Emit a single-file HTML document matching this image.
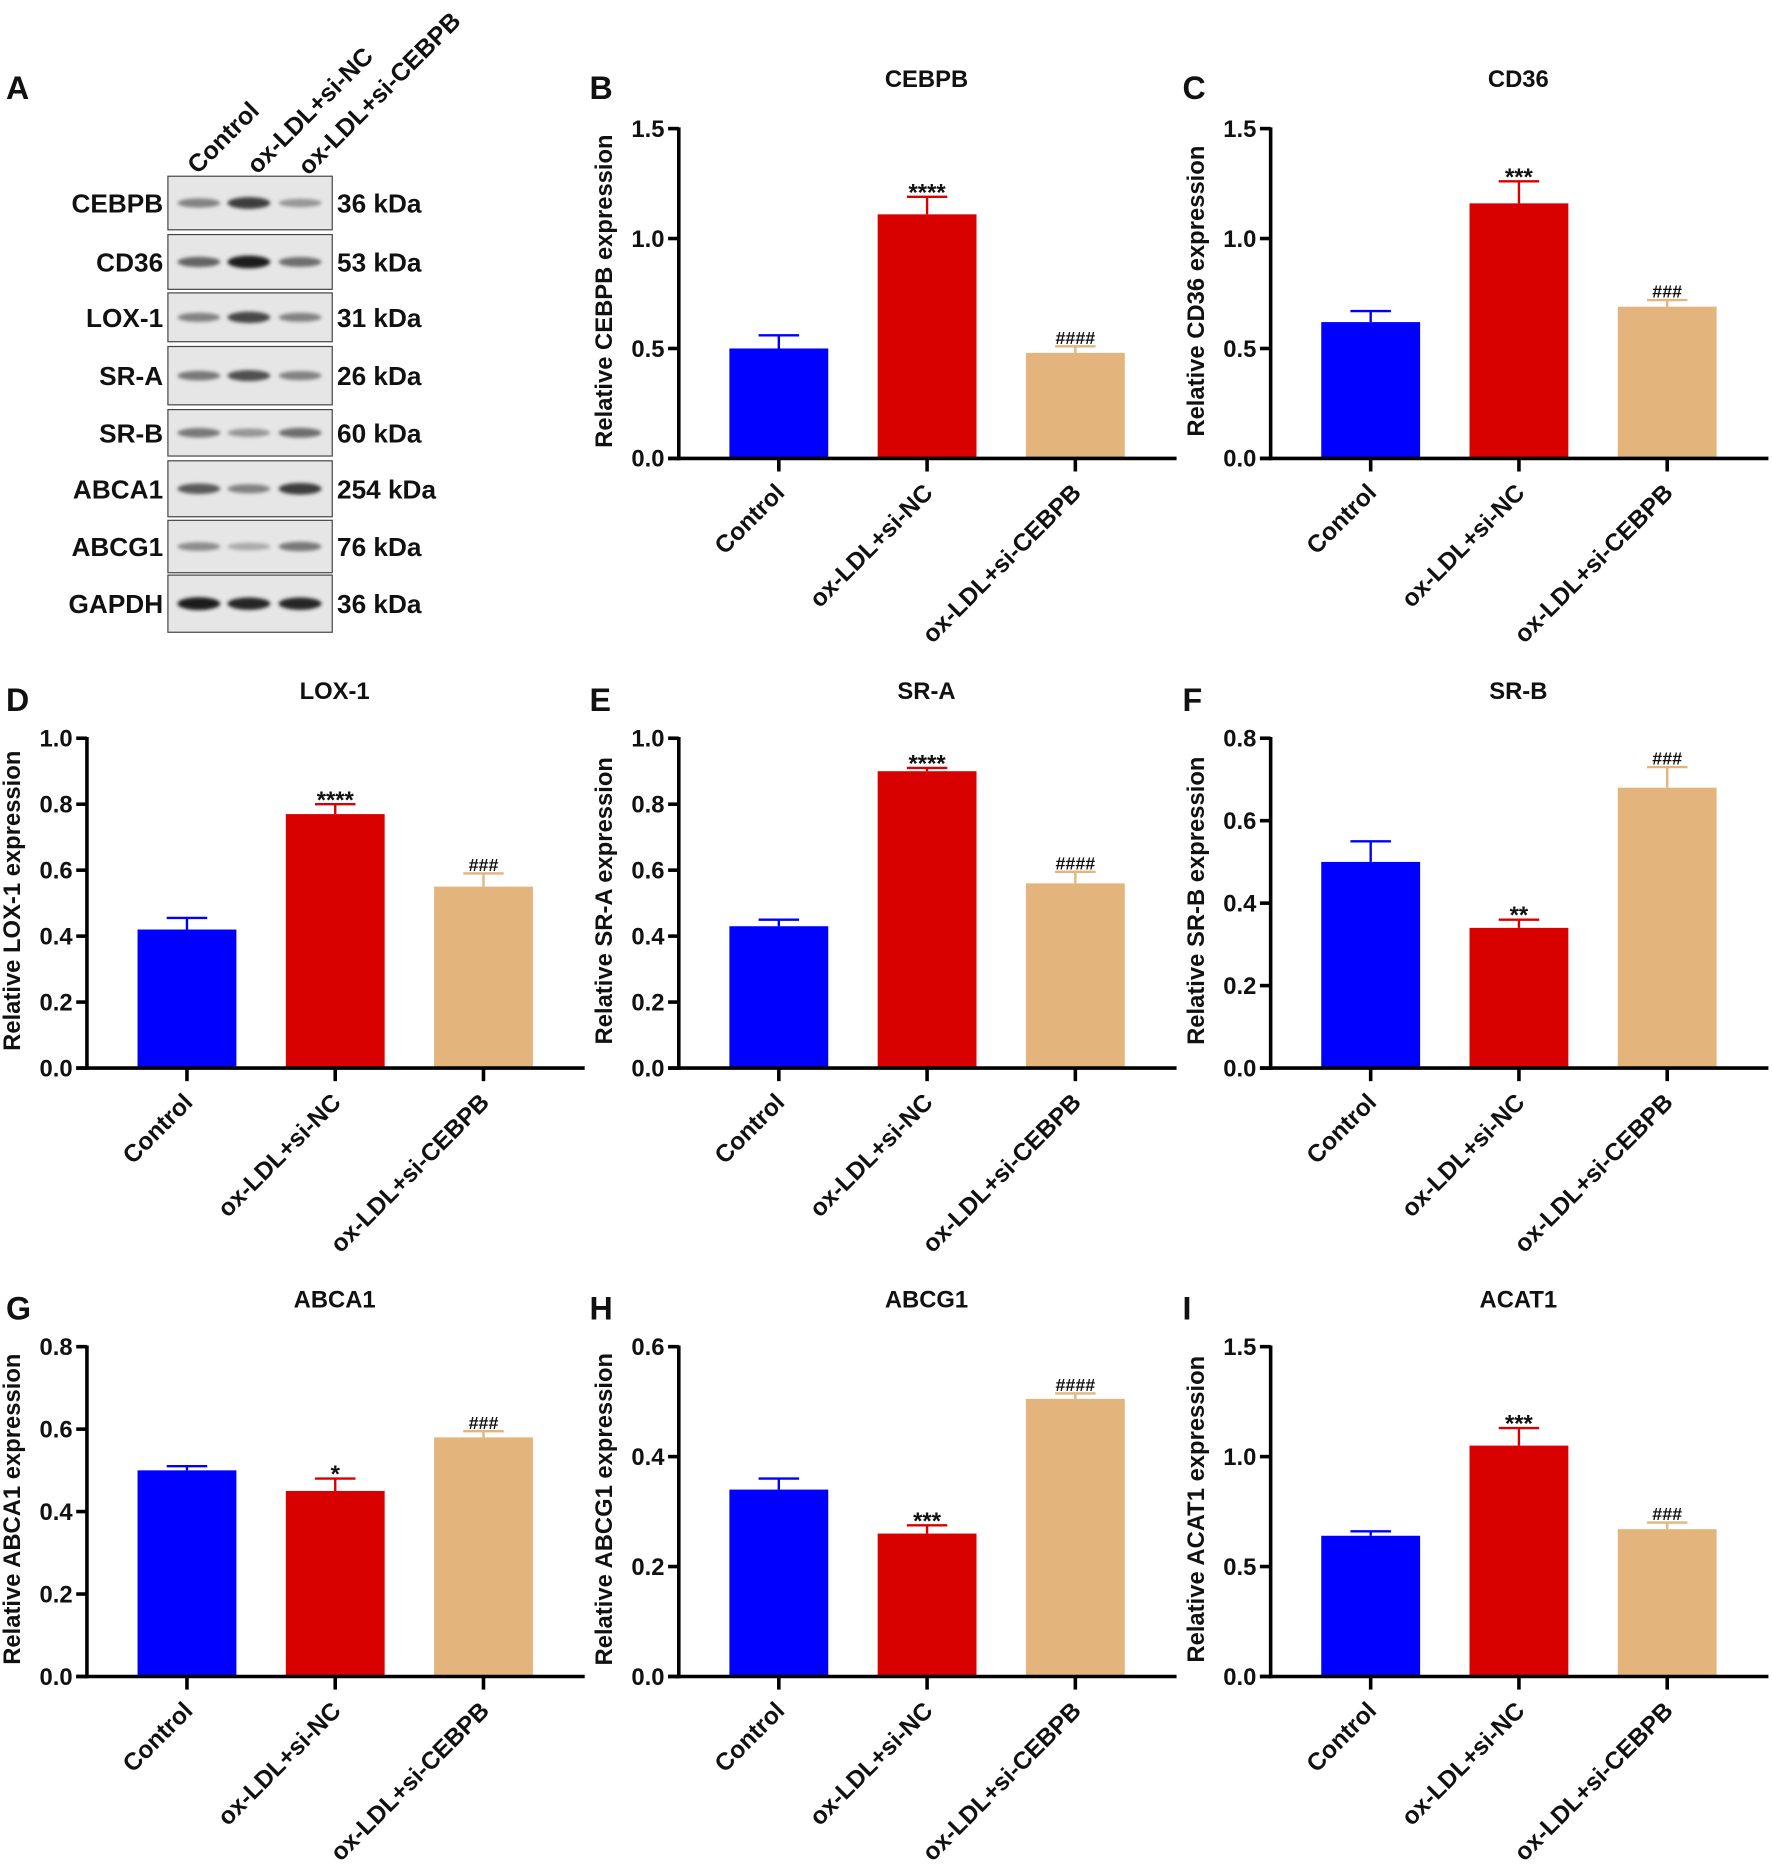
<!DOCTYPE html>
<html><head><meta charset="utf-8">
<style>
html,body{margin:0;padding:0;background:#fff;}
svg{display:block;}
text{font-family:"Liberation Sans",Arial,sans-serif;font-weight:bold;fill:#111;}
</style></head>
<body>
<svg id="fig" xmlns="http://www.w3.org/2000/svg" width="1772" height="1867" viewBox="0 0 1488 1568" preserveAspectRatio="none">
<defs><filter id="blur" x="-20%" y="-100%" width="140%" height="300%"><feGaussianBlur stdDeviation="1.6"/></filter></defs>
</svg>
<script>
const categories = ["Control","ox-LDL+si-NC","ox-LDL+si-CEBPB"];
const barColors = ["#0000ff","#d90000","#e3b47c"];
const cebpbMeans=[0.50,1.11,0.48]; const cebpbErr=[0.06,0.08,0.03]; const cebpbSig=["","****","####"];
const cd36Means=[0.62,1.16,0.69]; const cd36Err=[0.05,0.10,0.03]; const cd36Sig=["","***","###"];
const lox1Means=[0.42,0.77,0.55]; const lox1Err=[0.035,0.03,0.04]; const lox1Sig=["","****","###"];
const sraMeans=[0.43,0.90,0.56]; const sraErr=[0.02,0.01,0.035]; const sraSig=["","****","####"];
const srbMeans=[0.50,0.34,0.68]; const srbErr=[0.05,0.02,0.05]; const srbSig=["","**","###"];
const abca1Means=[0.50,0.45,0.58]; const abca1Err=[0.01,0.03,0.015]; const abca1Sig=["","*","###"];
const abcg1Means=[0.34,0.26,0.505]; const abcg1Err=[0.02,0.015,0.01]; const abcg1Sig=["","***","####"];
const acat1Means=[0.64,1.05,0.67]; const acat1Err=[0.02,0.08,0.03]; const acat1Sig=["","***","###"];
const ticks15=["0.0","0.5","1.0","1.5"];
const ticks10=["0.0","0.2","0.4","0.6","0.8","1.0"];
const ticks08=["0.0","0.2","0.4","0.6","0.8"];
const ticks06=["0.0","0.2","0.4","0.6"];
const blotProteins=["CEBPB","CD36","LOX-1","SR-A","SR-B","ABCA1","ABCG1","GAPDH"];
const blotSizes=["36 kDa","53 kDa","31 kDa","26 kDa","60 kDa","254 kDa","76 kDa","36 kDa"];
const blotIntensity=[[0.45,0.8,0.35],[0.6,0.95,0.55],[0.45,0.75,0.45],[0.5,0.7,0.45],[0.5,0.35,0.55],[0.65,0.45,0.8],[0.4,0.25,0.5],[0.95,0.9,0.9]];

const svg=document.getElementById('fig');
const NS="http://www.w3.org/2000/svg";
function mk(tag,attrs,parent){const e=document.createElementNS(NS,tag);for(const k in attrs)e.setAttribute(k,attrs[k]);(parent||svg).appendChild(e);return e;}
function txt(s,attrs,parent){const t=mk('text',attrs,parent);t.textContent=s;return t;}

const panels=[
 {letter:"B",title:"CEBPB",means:cebpbMeans,err:cebpbErr,sig:cebpbSig,ticks:ticks15,ax:570,top:108,bot:385,lx:495,ly:73},
 {letter:"C",title:"CD36",means:cd36Means,err:cd36Err,sig:cd36Sig,ticks:ticks15,ax:1067,top:108,bot:385,lx:993,ly:73},
 {letter:"D",title:"LOX-1",means:lox1Means,err:lox1Err,sig:lox1Sig,ticks:ticks10,ax:73,top:620,bot:897,lx:5,ly:587},
 {letter:"E",title:"SR-A",means:sraMeans,err:sraErr,sig:sraSig,ticks:ticks10,ax:570,top:620,bot:897,lx:495,ly:587},
 {letter:"F",title:"SR-B",means:srbMeans,err:srbErr,sig:srbSig,ticks:ticks08,ax:1067,top:620,bot:897,lx:993,ly:587},
 {letter:"G",title:"ABCA1",means:abca1Means,err:abca1Err,sig:abca1Sig,ticks:ticks08,ax:73,top:1131,bot:1408,lx:5,ly:1098},
 {letter:"H",title:"ABCG1",means:abcg1Means,err:abcg1Err,sig:abcg1Sig,ticks:ticks06,ax:570,top:1131,bot:1408,lx:495,ly:1098},
 {letter:"I",title:"ACAT1",means:acat1Means,err:acat1Err,sig:acat1Sig,ticks:ticks15,ax:1067,top:1131,bot:1408,lx:993,ly:1098}
];

panels.forEach(p=>{
 const g=mk('g',{});
 
 
 const ymax=parseFloat(p.ticks[p.ticks.length-1]);
 const y=v=>p.bot-(v/ymax)*(p.bot-p.top);
 const x=i=>p.ax+84+i*124.5;
 const l=txt(p.letter,{x:p.lx,y:p.ly+10,'font-size':27},g);
 
 
 const t=txt(p.title,{x:p.ax+208,y:p.ly,'font-size':20,'text-anchor':'middle'},g);
 
 
 const yl=txt('Relative '+p.title+' expression',{x:0,y:0,'font-size':20,'text-anchor':'middle',transform:`translate(${p.ax-56},${(p.top+p.bot)/2-2}) rotate(-90)`},g);
 
 
 p.means.forEach((m,i)=>{
  const cx=x(i);
  const b=mk('rect',{x:cx-41.5,y:y(m),width:83,height:p.bot-y(m),fill:barColors[i]},g);
  
  
  const top=y(m+p.err[i]);
  const e=mk('path',{d:`M${cx},${y(m)}V${top}M${cx-17},${top}H${cx+17}`,stroke:barColors[i],'stroke-width':2,fill:'none'},g);
  
  
  if(p.sig[i]){
   const isHash=p.sig[i][0]=='#';
   const s=txt(p.sig[i],{x:cx,y:top-(isHash?2:-3),'font-size':isHash?15:20,'text-anchor':'middle','font-weight':isHash?'normal':'bold'},g);
   
   
  }
  mk('line',{x1:cx,y1:p.bot,x2:cx,y2:p.bot+11,stroke:'#000','stroke-width':3},g);
  const xl=txt(categories[i],{x:0,y:0,'font-size':20.5,'text-anchor':'end',transform:`translate(${cx+6},${p.bot+30}) rotate(-45)`},g);
  
  
 });
 p.ticks.forEach(tk=>{
  const v=parseFloat(tk);
  mk('line',{x1:p.ax-9,y1:y(v),x2:p.ax,y2:y(v),stroke:'#000','stroke-width':3},g);
  const tl=txt(tk,{x:p.ax-12,y:y(v)+7,'font-size':20,'text-anchor':'end'},g);
  
  
 });
 const ya=mk('line',{x1:p.ax,y1:p.top-1,x2:p.ax,y2:p.bot+1.5,stroke:'#000','stroke-width':3},g);
 
 
 const xa=mk('line',{x1:p.ax-9,y1:p.bot,x2:p.ax+418,y2:p.bot,stroke:'#000','stroke-width':3},g);
 
 
});

// Panel A western blot
const ga=mk('g',{});


const la=txt('A',{x:5,y:83,'font-size':27},ga);


const laneX=[167,209,252];
const laneLabelPos=[[166,147],[216,147],[259,148]];
categories.forEach((c,i)=>{
 const t=txt(c,{x:0,y:0,'font-size':21,transform:`translate(${laneLabelPos[i][0]},${laneLabelPos[i][1]}) rotate(-45)`},ga);
 
 
});
const boxes=[[148,193],[197,243],[246,287],[291,340],[344,383],[387,434],[437,481],[483,531]];
blotProteins.forEach((pr,r)=>{
 const [y0,y1]=boxes[r];
 const bx=mk('rect',{x:141,y:y0,width:138,height:y1-y0,fill:'#e6e6e6',stroke:'#444','stroke-width':1},ga);
 
 
 const cy=(y0+y1)/2;
 blotIntensity[r].forEach((it,i)=>{
  const g=Math.round(220-200*it);
  const band=mk('ellipse',{cx:laneX[i],cy:cy,rx:18,ry:2.5+3*it,fill:`rgb(${g},${g},${g})`,filter:'url(#blur)'},ga);
  
  
 });
 const pl=txt(pr,{x:137,y:cy+8,'font-size':22,'text-anchor':'end'},ga);
 
 
 const sl=txt(blotSizes[r],{x:283,y:cy+8,'font-size':22},ga);
 
 
});
</script>
</body></html>
